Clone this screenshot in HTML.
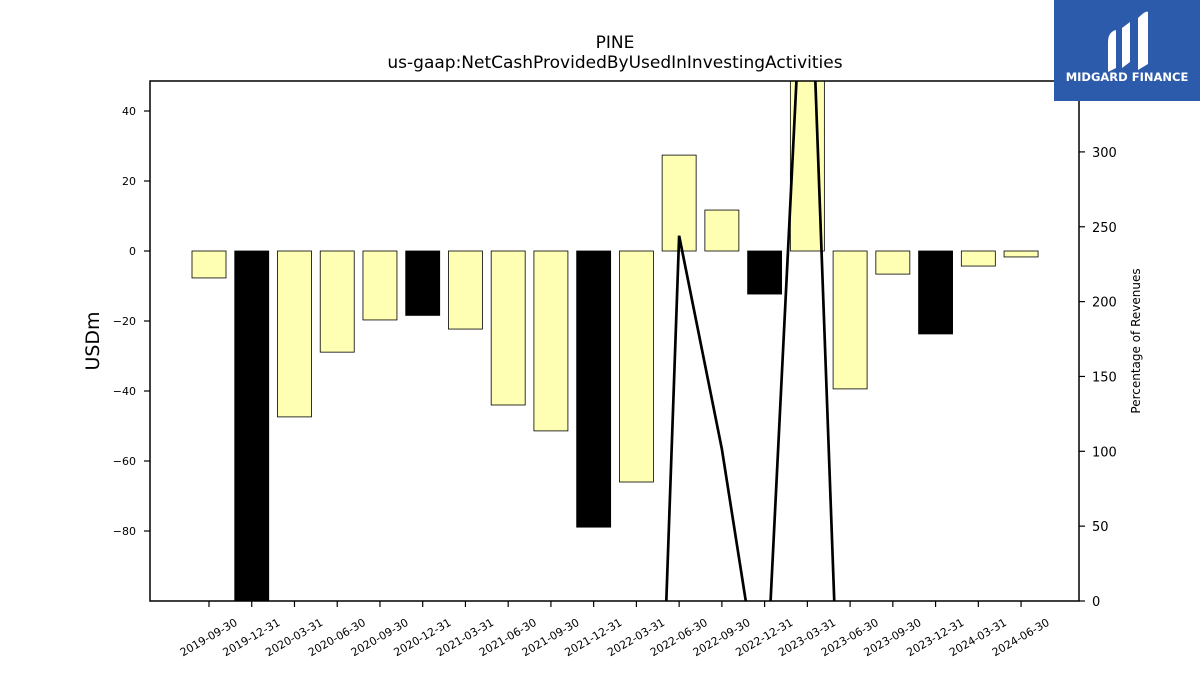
<!DOCTYPE html>
<html><head><meta charset="utf-8"><style>
html,body{margin:0;background:#fff;overflow:hidden;width:1200px;height:675px;}
svg{display:block;}
svg text{font-family:"DejaVu Sans","Liberation Sans",sans-serif;}
</style></head><body>
<svg id="chart" width="1200" height="675" xmlns="http://www.w3.org/2000/svg">
<text x="615" y="48" font-size="17" text-anchor="middle">PINE</text>
<text x="615" y="68" font-size="17" text-anchor="middle">us-gaap:NetCashProvidedByUsedInInvestingActivities</text>
<defs><clipPath id="pc"><rect x="150" y="81" width="929" height="520"/></clipPath></defs>
<g id="bars" clip-path="url(#pc)"></g>
<g id="line" clip-path="url(#pc)"></g>
<rect x="150" y="81" width="929" height="520" fill="none" stroke="#000" stroke-width="1.5"/>
<g id="axes"></g>
<text transform="translate(99,341) rotate(-90)" font-size="19" text-anchor="middle">USDm</text>
<text transform="translate(1140,341) rotate(-90)" font-size="12" text-anchor="middle">Percentage of Revenues</text>
<g>
<rect x="1054" y="0" width="146" height="101" fill="#2d5bab"/>
<path d="M1108 42 Q1108 32 1116 30 L1116 68 L1108 72 Z" fill="#fff"/>
<path d="M1122 28 L1130 22 L1130 62 L1122 68 Z" fill="#fff"/>
<path d="M1138 18 Q1146 10 1148 12 L1148 64 L1138 70 Z" fill="#fff"/>
<text x="1127" y="81" font-size="11.5" font-weight="bold" fill="#fff" text-anchor="middle">MIDGARD FINANCE</text>
</g>
</svg>
<script>
const categories=["2019-09-30","2019-12-31","2020-03-31","2020-06-30","2020-09-30","2020-12-31","2021-03-31","2021-06-30","2021-09-30","2021-12-31","2022-03-31","2022-06-30","2022-09-30","2022-12-31","2023-03-31","2023-06-30","2023-09-30","2023-12-31","2024-03-31","2024-06-30"];
const cashValues=[-7.7,-120,-47.4,-28.9,-19.7,-18.4,-22.3,-44,-51.4,-78.9,-66,27.4,11.7,-12.3,60,-39.4,-6.6,-23.7,-4.3,-1.7];
const isAnnual=[false,true,false,false,false,true,false,false,false,true,false,false,false,true,false,false,false,true,false,false];
const pctRevenue=[null,null,null,null,null,null,null,null,null,null,-569,244,101.5,-80,494,-291,null,null,null,null];
const leftTicks=[-80,-60,-40,-20,0,20,40];
const rightTicks=[0,50,100,150,200,250,300];
const NS="http://www.w3.org/2000/svg";
const L=150,R=1079,T=81,B=601;
const x0=209,dx=42.74;
function xPos(i){return x0+i*dx;}
function yL(v){return 251-v*3.5;}
function yR(v){return 601-v*1.497;}
function mk(tag,attrs,parent){const e=document.createElementNS(NS,tag);for(const k in attrs)e.setAttribute(k,attrs[k]);parent.appendChild(e);return e;}
const bars=document.getElementById('bars'),line=document.getElementById('line'),axes=document.getElementById('axes');
categories.forEach((c,i)=>{
 const v=cashValues[i];const y1=yL(Math.max(v,0)),y2=yL(Math.min(v,0));
 const r=mk('rect',{x:xPos(i)-17,y:y1,width:34,height:y2-y1,fill:isAnnual[i]?'#000':'#ffffb3',stroke:'#000','stroke-width':0.8},bars);
 
 
 const t=mk('line',{x1:xPos(i),x2:xPos(i),y1:B,y2:B+6,stroke:'#000','stroke-width':1.2},axes);
 
 
 const lb=mk('text',{transform:`translate(${xPos(i)},${B+37}) rotate(-30)`,'font-size':11,'text-anchor':'middle','dominant-baseline':'middle'},axes);
 lb.textContent=c;
 
 
});
let d='',started=false;
pctRevenue.forEach((v,i)=>{if(v===null){started=false;return;}d+=(started?'L':'M')+xPos(i)+' '+yR(v)+' ';started=true;});
const p=mk('path',{d:d,fill:'none',stroke:'#000','stroke-width':2.7},line);


leftTicks.forEach(v=>{
 const t=mk('line',{x1:L-6,x2:L,y1:yL(v),y2:yL(v),stroke:'#000','stroke-width':1.2},axes);
 
 
 const lb=mk('text',{x:L-14,y:yL(v)+4,'font-size':11,'text-anchor':'end'},axes);
 lb.textContent=v<0?'\u2212'+Math.abs(v):String(v);
 
 
});
rightTicks.forEach(v=>{
 const t=mk('line',{x1:R,x2:R+6,y1:yR(v),y2:yR(v),stroke:'#000','stroke-width':1.2},axes);
 
 
 const lb=mk('text',{x:R+13,y:yR(v)+5,'font-size':13,'text-anchor':'start'},axes);
 lb.textContent=String(v);
 
 
});
</script>
</body></html>
